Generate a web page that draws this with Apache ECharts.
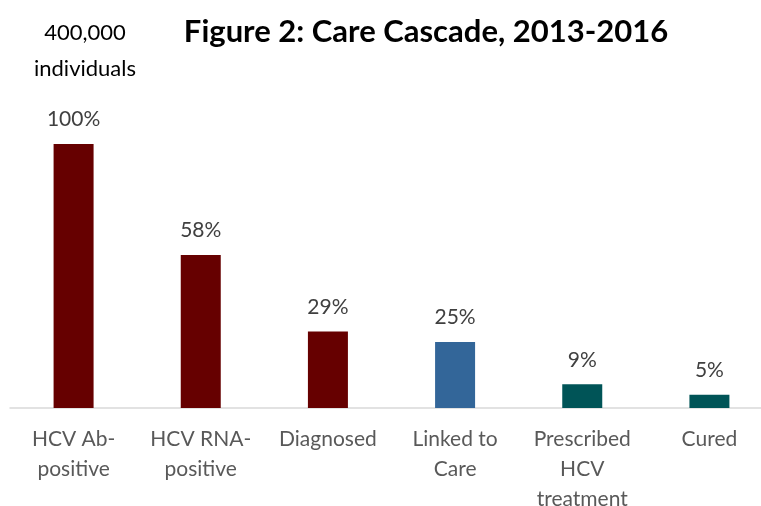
<!DOCTYPE html>
<html>
<head>
<meta charset="utf-8">
<script src="https://cdn.jsdelivr.net/npm/echarts@6/dist/echarts.min.js"></script>
<style>html,body{margin:0;padding:0;background:#fff;}#c{width:761px;height:506px;}</style>
</head>
<body>
<div id="c"></div>
<script>
const categories = ['HCV Ab-\npositive', 'HCV RNA-\npositive', 'Diagnosed', 'Linked to\nCare', 'Prescribed\nHCV\ntreatment', 'Cured'];
const percents = [100, 58, 29, 25, 9, 5];
const barColors = ['#660000', '#660000', '#660000', '#336699', '#005457', '#005457'];
const titleText = 'Figure 2: Care Cascade, 2013-2016';
const totalNote = '400,000\nindividuals';

const chart = echarts.init(document.getElementById('c'), null, {renderer: 'canvas'});
chart.setOption({
  animation: false,
  backgroundColor: '#ffffff',
  title: [
    {text: titleText, left: 421, top: 27, textAlign: 'center', textVerticalAlign: 'middle',
     textStyle: {fontFamily: 'Lato', fontWeight: 'bold', fontSize: 31, color: '#000000'}},
    {text: totalNote, left: 80, top: 10, textAlign: 'center',
     textStyle: {fontFamily: 'Lato', fontWeight: 'normal', fontSize: 22, lineHeight: 36, color: '#000000'}}
  ],
  grid: {left: 10, right: -12, top: 144, bottom: 98, outerBoundsMode: 'none', containLabel: false},
  xAxis: {
    type: 'category',
    data: categories,
    axisLine: {show: true, lineStyle: {color: '#d9d9d9', width: 1.5}},
    axisTick: {show: false},
    axisLabel: {fontFamily: 'Lato', fontSize: 21, lineHeight: 30, color: '#595959', margin: 16, interval: 0}
  },
  yAxis: {type: 'value', min: 0, max: 100, show: false, splitLine: {show: false}},
  series: [{
    type: 'bar',
    barWidth: 40,
    data: percents.map((v, i) => ({value: v, itemStyle: {color: barColors[i]}})),
    label: {show: true, position: 'top', distance: 14, formatter: p => p.value + '%',
            fontFamily: 'Lato', fontSize: 21, color: '#404040'}
  }]
});
</script>
</body>
</html>
